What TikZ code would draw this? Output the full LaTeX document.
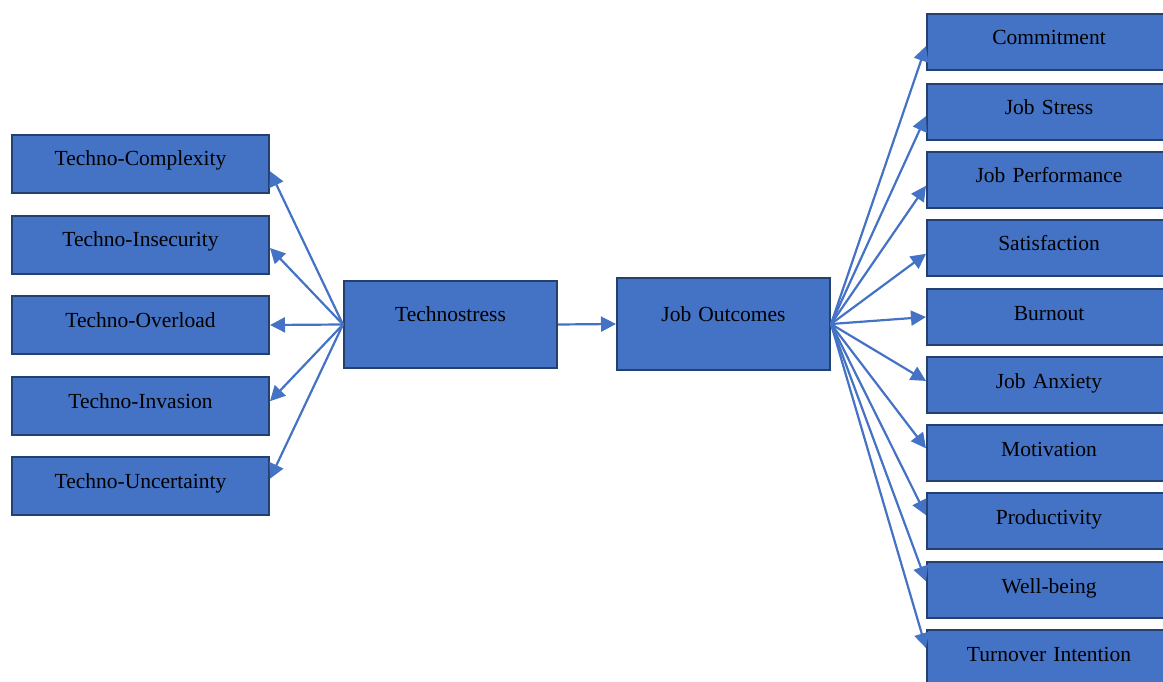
\documentclass[tikz,border=0pt]{standalone}
\usepackage{fontspec}
\setmainfont{Liberation Serif}
\usetikzlibrary{arrows.meta,calc}
\definecolor{boxfill}{HTML}{4472C4}
\definecolor{boxline}{HTML}{24406F}
\definecolor{arrowblue}{HTML}{4472C4}
\newcommand\rlbl[1]{\makebox[244pt][c]{#1}}
\tikzset{
  box/.style={draw=boxline, fill=boxfill, line width=2pt, rectangle, anchor=north west,
    inner xsep=0pt, inner ysep=0pt, font=\fontsize{21.5}{25}\selectfont, text=black},
  leftbox/.style={box, minimum width=257pt, text width=257pt, align=center, text height=31pt, text depth=27pt},
  rightbox/.style={box, minimum width=270pt, text width=270pt, align=left, text height=31pt, text depth=25pt},
  midbox/.style={box, minimum width=213pt, text width=213pt, align=center},
  conn/.style={draw=arrowblue, line width=2.2pt, -{Triangle[length=15pt,width=15pt]}}
}
\begin{document}
\begin{tikzpicture}[x=1pt,y=-1pt]
\useasboundingbox (0,0) rectangle (1163,682);
\clip (0,0) rectangle (1163,682);
% left boxes
\node[leftbox] (tc) at (11,134) {Techno-Complexity};
\node[leftbox] (ti) at (11,215) {Techno-Insecurity};
\node[leftbox] (to) at (11,295) {Techno-Overload};
\node[leftbox] (tv) at (11,376) {Techno-Invasion};
\node[leftbox] (tu) at (11,456) {Techno-Uncertainty};
% middle
\node[midbox, text height=40pt, text depth=47pt] (ts) at (343,280) {Technostress};
\node[midbox, text height=43pt, text depth=49pt] (jo) at (616,277) {Job Outcomes};
% right boxes (extend past the right edge)
\node[rightbox] (r1) at (926,13) {\rlbl{Commitment}};
\node[rightbox] (r2) at (926,83) {\rlbl{Job Stress}};
\node[rightbox] (r3) at (926,151) {\rlbl{Job Performance}};
\node[rightbox] (r4) at (926,219) {\rlbl{Satisfaction}};
\node[rightbox] (r5) at (926,288) {\rlbl{Burnout}};
\node[rightbox] (r6) at (926,356) {\rlbl{Job Anxiety}};
\node[rightbox] (r7) at (926,424) {\rlbl{Motivation}};
\node[rightbox] (r8) at (926,492) {\rlbl{Productivity}};
\node[rightbox] (r9) at (926,561) {\rlbl{Well-being}};
\node[rightbox] (r10) at (926,629) {\rlbl{Turnover Intention}};
% left connectors
\draw[conn] (ts.west) -- ($(tc.north east)!0.62!(tc.south east)$);
\draw[conn] (ts.west) -- ($(ti.north east)!0.55!(ti.south east)$);
\draw[conn] (ts.west) -- ($(to.north east)!0.5!(to.south east)$);
\draw[conn] (ts.west) -- ($(tv.north east)!0.42!(tv.south east)$);
\draw[conn] (ts.west) -- ($(tu.north east)!0.38!(tu.south east)$);
% middle connector
\draw[conn] (ts.east) -- (jo.west);
% right connectors
\draw[conn] (jo.east) -- ($(r1.north west)!0.57!(r1.south west)$);
\draw[conn] (jo.east) -- ($(r2.north west)!0.57!(r2.south west)$);
\draw[conn] (jo.east) -- ($(r3.north west)!0.6!(r3.south west)$);
\draw[conn] (jo.east) -- ($(r4.north west)!0.6!(r4.south west)$);
\draw[conn] (jo.east) -- ($(r5.north west)!0.5!(r5.south west)$);
\draw[conn] (jo.east) -- ($(r6.north west)!0.43!(r6.south west)$);
\draw[conn] (jo.east) -- ($(r7.north west)!0.42!(r7.south west)$);
\draw[conn] (jo.east) -- ($(r8.north west)!0.4!(r8.south west)$);
\draw[conn] (jo.east) -- ($(r9.north west)!0.35!(r9.south west)$);
\draw[conn] (jo.east) -- ($(r10.north west)!0.33!(r10.south west)$);
\end{tikzpicture}
\end{document}
